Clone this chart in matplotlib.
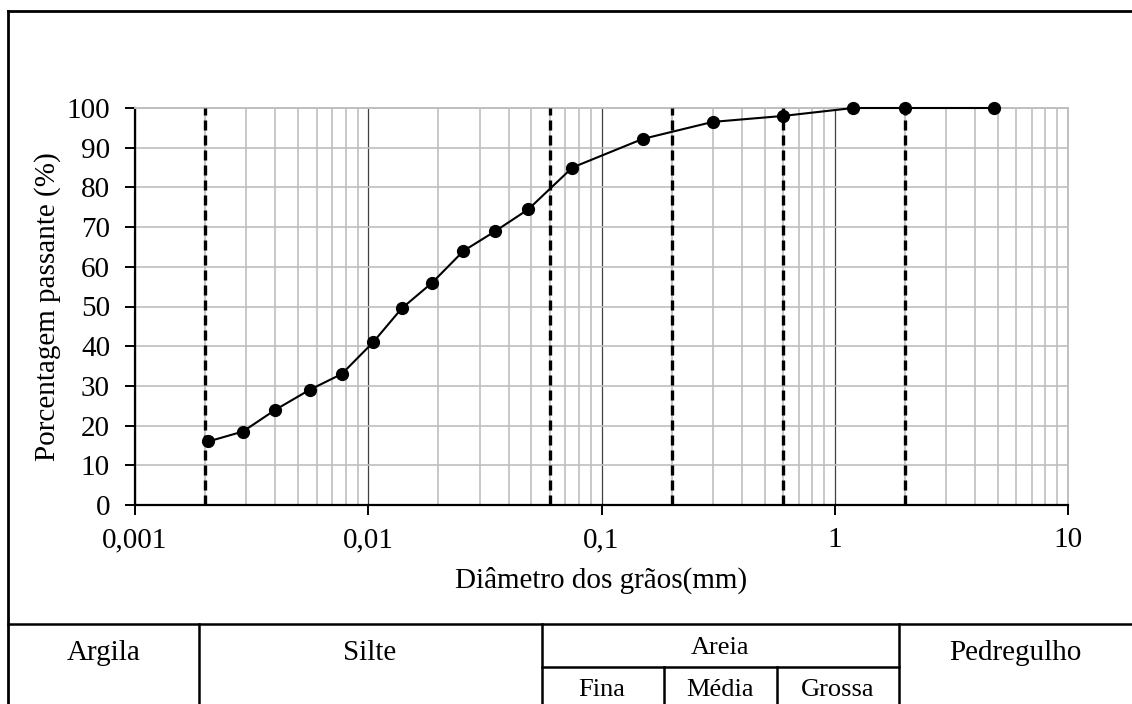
import matplotlib.pyplot as plt
from matplotlib.lines import Line2D
from matplotlib.ticker import LogLocator, NullFormatter

plt.rcParams['font.family'] = ['Liberation Serif', 'DejaVu Serif']

#Data
diametro = [0.00206, 0.0029, 0.0040, 0.0056, 0.0077, 0.0105, 0.0139, 0.0188,
            0.0256, 0.0351, 0.0486, 0.075, 0.15, 0.3, 0.6, 1.2, 2.0, 4.8]
passante = [16, 18.5, 24, 29, 33, 41, 49.5, 56, 64, 69, 74.5, 85, 92.2,
            96.5, 98, 100, 100, 100]
limites = [0.002, 0.06, 0.2, 0.6, 2.0]
xticks = [0.001, 0.01, 0.1, 1, 10]
xticklabels = ['0,001', '0,01', '0,1', '1', '10']
yticks = list(range(0, 101, 10))

W, H = 1132, 704
fig = plt.figure(figsize=(W / 100, H / 100), dpi=100)

def fx(px):
    return px / W

def fy(py):
    return 1 - py / H

ax = fig.add_axes([fx(135), fy(505), fx(1068) - fx(135), fy(108) - fy(505)])

#Grid
ax.set_xscale('log')
ax.set_xlim(0.001, 10)
ax.set_ylim(0, 100)
ax.xaxis.set_minor_locator(LogLocator(base=10, subs=range(2, 10)))
ax.xaxis.set_minor_formatter(NullFormatter())
ax.grid(which='minor', axis='x', color='#bfbfbf', linewidth=1.2)
ax.grid(which='major', axis='x', color='#404040', linewidth=0.9)
ax.grid(which='major', axis='y', color='#bfbfbf', linewidth=1.2)
ax.set_axisbelow(True)

#Classification limits
for lim in limites:
    ax.plot([lim, lim], [0, 100], color='black', linestyle=(0, (3, 1.5)),
            linewidth=2.4, zorder=3)

#Curve
ax.plot(diametro, passante, color='black', linewidth=1.5, marker='o',
        markersize=8.5, zorder=4, clip_on=False)

#Axes style
ax.set_xticks(xticks)
ax.set_xticklabels(xticklabels)
ax.set_yticks(yticks)
ax.tick_params(axis='both', which='major', labelsize=21, length=7, width=1.4,
               direction='out', color='black')
ax.tick_params(axis='x', which='major', pad=9)
ax.tick_params(axis='y', which='major', pad=11)
ax.tick_params(which='minor', length=0)
for s in ['top', 'right']:
    ax.spines[s].set_color('#bfbfbf')
    ax.spines[s].set_linewidth(1.4)
for s in ['left', 'bottom']:
    ax.spines[s].set_color('black')
    ax.spines[s].set_linewidth(1.6)

ax.set_xlabel('Diâmetro dos grãos(mm)', fontsize=21, labelpad=10)
ax.set_ylabel('Porcentagem passante (%)', fontsize=21, labelpad=4)

#Border and classification table
def hline(y, x0, x1, lw=1.8):
    fig.add_artist(Line2D([fx(x0), fx(x1)], [fy(y), fy(y)], color='black', linewidth=lw))

def vline(x, y0, y1, lw=1.8):
    fig.add_artist(Line2D([fx(x), fx(x)], [fy(y0), fy(y1)], color='black', linewidth=lw))

hline(11, 8, W, lw=2)
vline(8, 11, H, lw=2)
hline(624, 8, W)
vline(199, 624, H)
vline(542, 624, H)
vline(899, 624, H)
hline(667, 542, 899)
vline(664, 667, H)
vline(777, 667, H)

fig.text(fx(103.5), fy(653), 'Argila', fontsize=21, ha='center', va='center')
fig.text(fx(370), fy(653), 'Silte', fontsize=21, ha='center', va='center')
fig.text(fx(720), fy(648), 'Areia', fontsize=19, ha='center', va='center')
fig.text(fx(1015), fy(653), 'Pedregulho', fontsize=21, ha='center', va='center')
fig.text(fx(602), fy(690), 'Fina', fontsize=19, ha='center', va='center')
fig.text(fx(720), fy(690), 'Média', fontsize=19, ha='center', va='center')
fig.text(fx(838), fy(690), 'Grossa', fontsize=19, ha='center', va='center')

fig.savefig('out.png', dpi=100)
